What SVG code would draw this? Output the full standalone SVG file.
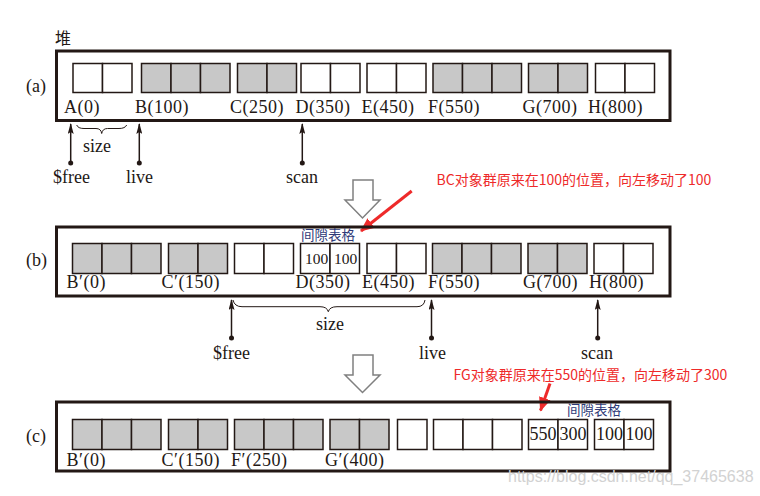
<svg xmlns="http://www.w3.org/2000/svg" width="760" height="496" viewBox="0 0 760 496">
<style>
.box{fill:none;stroke:#231815;stroke-width:3}
.c{stroke:#231815;stroke-width:1.5}
.g{fill:#c8c8c8}
.w{fill:#fff}
.t{font-family:"Liberation Serif","Times New Roman",serif;font-size:18px;fill:#231815}
.l{letter-spacing:0.5px}
.n{font-family:"Liberation Serif","Times New Roman",serif;fill:#231815;text-anchor:middle}
.gap{font-family:"Noto Sans CJK SC",sans-serif;font-size:13.5px;fill:#2e3a78}
.red{font-family:"Noto Sans CJK SC",sans-serif;font-size:14px;fill:#ee2a2a}
.ptr{stroke:#231815;stroke-width:1.5;fill:none}
.dot{fill:#231815}
.brace{stroke:#231815;stroke-width:1;fill:none}
.hollow{fill:#fff;stroke:#808080;stroke-width:1.5}
.rl{stroke:#ee2a2a;stroke-width:3;fill:none}
</style>
<defs>
<marker id="ah" markerUnits="userSpaceOnUse" markerWidth="11" markerHeight="6" refX="10" refY="3" orient="auto" viewBox="0 0 11 6">
<path d="M11,3 L0,0 L2,3 L0,6 Z" fill="#231815"/>
</marker>
<marker id="rh" markerUnits="userSpaceOnUse" markerWidth="14" markerHeight="14" refX="13" refY="6" orient="auto" viewBox="0 0 14 12">
<path d="M0,0 L14,6 L0,12 Z" fill="#ee2a2a"/>
</marker>
</defs>

<text x="55" y="44" style="font-family:'Noto Sans CJK SC',sans-serif;font-size:16px;fill:#231815">堆</text>

<g id="row-a">
<text class="t" x="26" y="92">(a)</text>
<rect class="box" x="56.5" y="51" width="613.5" height="69.5"/>
<g id="a-A"><rect class="c w" x="73" y="63.5" width="29.5" height="29"/><rect class="c w" x="102.5" y="63.5" width="29.5" height="29"/><text class="t l" x="64" y="113">A(0)</text></g>
<g id="a-B"><rect class="c g" x="141.5" y="63.5" width="29.5" height="29"/><rect class="c g" x="171" y="63.5" width="29.5" height="29"/><rect class="c g" x="200.5" y="63.5" width="29.5" height="29"/><text class="t l" x="135" y="113">B(100)</text></g>
<g id="a-C"><rect class="c g" x="237.5" y="63.5" width="29.5" height="29"/><rect class="c g" x="267" y="63.5" width="29.5" height="29"/><text class="t l" x="230" y="113">C(250)</text></g>
<g id="a-D"><rect class="c w" x="301" y="63.5" width="29.5" height="29"/><rect class="c w" x="330.5" y="63.5" width="29.5" height="29"/><text class="t l" x="295.5" y="113">D(350)</text></g>
<g id="a-E"><rect class="c w" x="367" y="63.5" width="29.5" height="29"/><rect class="c w" x="396.5" y="63.5" width="29.5" height="29"/><text class="t l" x="361.5" y="113">E(450)</text></g>
<g id="a-F"><rect class="c g" x="433" y="63.5" width="29.5" height="29"/><rect class="c g" x="462.5" y="63.5" width="29.5" height="29"/><rect class="c g" x="492" y="63.5" width="29.5" height="29"/><text class="t l" x="428" y="113">F(550)</text></g>
<g id="a-G"><rect class="c g" x="528.5" y="63.5" width="29.5" height="29"/><rect class="c g" x="558" y="63.5" width="29.5" height="29"/><text class="t l" x="522.5" y="113">G(700)</text></g>
<g id="a-H"><rect class="c w" x="595.5" y="63.5" width="29.5" height="29"/><rect class="c w" x="625" y="63.5" width="29.5" height="29"/><text class="t l" x="588" y="113">H(800)</text></g>
</g>

<g id="ptr-a">
<g id="a-free"><line class="ptr" x1="70.7" y1="163" x2="70.7" y2="124" marker-end="url(#ah)"/><circle class="dot" cx="70.7" cy="163" r="2.5"/><text class="t" x="53" y="183">$free</text></g>
<g id="a-live"><line class="ptr" x1="139.3" y1="163" x2="139.3" y2="124" marker-end="url(#ah)"/><circle class="dot" cx="139.3" cy="163" r="2.5"/><text class="t" x="126" y="183">live</text></g>
<g id="a-scan"><line class="ptr" x1="302.3" y1="163" x2="302.3" y2="124" marker-end="url(#ah)"/><circle class="dot" cx="302.3" cy="163" r="2.5"/><text class="t" x="286" y="183">scan</text></g>
<g id="a-size"><path class="brace" d="M76.7,125 Q78,128.5 84,128.5 L96,128.5 Q101,128.5 101.7,133.5 Q102.5,128.5 107.5,128.5 L119,128.5 Q125,128.5 126.7,125"/><text class="t" x="83" y="152">size</text></g>
</g>

<g id="step-1"><polygon class="hollow" points="353,180 373,180 373,200 380,200 362.5,218 345,200 353,200"/></g>

<g id="note-1">
<text class="red" x="436.5" y="185">BC对象群原来在100的位置，向左移动了100</text>
<line class="rl" x1="411.7" y1="191" x2="361" y2="231" marker-end="url(#rh)"/>
</g>

<g id="row-b">
<text class="t" x="26" y="266">(b)</text>
<rect class="box" x="56.5" y="227" width="613.5" height="69"/>
<g id="b-B"><rect class="c g" x="72.5" y="243.5" width="29.5" height="30"/><rect class="c g" x="102" y="243.5" width="29.5" height="30"/><rect class="c g" x="131.5" y="243.5" width="29.5" height="30"/><text class="t l" x="66.5" y="288">B′(0)</text></g>
<g id="b-C"><rect class="c g" x="168.5" y="243.5" width="29.5" height="30"/><rect class="c g" x="198" y="243.5" width="29.5" height="30"/><text class="t l" x="161.5" y="288">C′(150)</text></g>
<g id="b-free"><rect class="c w" x="234.5" y="243.5" width="29.5" height="30"/><rect class="c w" x="264" y="243.5" width="29.5" height="30"/></g>
<g id="b-D"><rect class="c w" x="300.5" y="243.5" width="29.5" height="30"/><rect class="c w" x="330" y="243.5" width="29.5" height="30"/><text class="n" x="316.5" y="263.5" font-size="15.5">100</text><text class="n" x="345.5" y="263.5" font-size="15.5">100</text><text class="gap" x="301" y="240">间隙表格</text><text class="t l" x="295.5" y="288">D(350)</text></g>
<g id="b-E"><rect class="c w" x="367" y="243.5" width="29.5" height="30"/><rect class="c w" x="396.5" y="243.5" width="29.5" height="30"/><text class="t l" x="362" y="288">E(450)</text></g>
<g id="b-F"><rect class="c g" x="432.5" y="243.5" width="29.5" height="30"/><rect class="c g" x="462" y="243.5" width="29.5" height="30"/><rect class="c g" x="491.5" y="243.5" width="29.5" height="30"/><text class="t l" x="428" y="288">F(550)</text></g>
<g id="b-G"><rect class="c g" x="528" y="243.5" width="29.5" height="30"/><rect class="c g" x="557.5" y="243.5" width="29.5" height="30"/><text class="t l" x="523" y="288">G(700)</text></g>
<g id="b-H"><rect class="c w" x="594" y="243.5" width="29.5" height="30"/><rect class="c w" x="623.5" y="243.5" width="29.5" height="30"/><text class="t l" x="589" y="288">H(800)</text></g>
</g>

<g id="ptr-b">
<g id="b-pfree"><line class="ptr" x1="231.5" y1="338" x2="231.5" y2="300" marker-end="url(#ah)"/><circle class="dot" cx="231.5" cy="338" r="2.5"/><text class="t" x="213" y="358.5">$free</text></g>
<g id="b-live"><line class="ptr" x1="431.5" y1="338" x2="431.5" y2="300" marker-end="url(#ah)"/><circle class="dot" cx="431.5" cy="338" r="2.5"/><text class="t" x="419" y="359">live</text></g>
<g id="b-scan"><line class="ptr" x1="597.7" y1="338" x2="597.7" y2="300" marker-end="url(#ah)"/><circle class="dot" cx="597.7" cy="338" r="2.5"/><text class="t" x="581" y="359">scan</text></g>
<g id="b-size"><path class="brace" d="M233,300 Q234.5,306.7 242,306.7 L320,306.7 Q327,306.7 328.3,311.7 Q329.6,306.7 337,306.7 L417,306.7 Q424,306.7 425,300"/><text class="t" x="316" y="330">size</text></g>
</g>

<g id="step-2"><polygon class="hollow" points="353,355 373,355 373,375 380,375 362.5,392.5 345,375 353,375"/></g>

<g id="note-2">
<text class="red" x="453.5" y="380">FG对象群原来在550的位置，向左移动了300</text>
<line class="rl" x1="550" y1="383.5" x2="540.5" y2="410.5" marker-end="url(#rh)"/>
</g>

<g id="row-c">
<text class="t" x="26" y="442">(c)</text>
<rect class="box" x="56.5" y="402" width="613.5" height="69"/>
<g id="c-B"><rect class="c g" x="72.5" y="419.5" width="29.5" height="30"/><rect class="c g" x="102" y="419.5" width="29.5" height="30"/><rect class="c g" x="131.5" y="419.5" width="29.5" height="30"/><text class="t l" x="66.5" y="466">B′(0)</text></g>
<g id="c-C"><rect class="c g" x="168.5" y="419.5" width="29.5" height="30"/><rect class="c g" x="198" y="419.5" width="29.5" height="30"/><text class="t l" x="161.5" y="466">C′(150)</text></g>
<g id="c-F"><rect class="c g" x="234.5" y="419.5" width="29.5" height="30"/><rect class="c g" x="264" y="419.5" width="29.5" height="30"/><rect class="c g" x="293.5" y="419.5" width="29.5" height="30"/><text class="t l" x="231" y="466">F′(250)</text></g>
<g id="c-G"><rect class="c g" x="330" y="419.5" width="29.5" height="30"/><rect class="c g" x="359.5" y="419.5" width="29.5" height="30"/><text class="t l" x="325" y="466">G′(400)</text></g>
<g id="c-free1"><rect class="c w" x="397.5" y="419.5" width="29.5" height="30"/></g>
<g id="c-free2"><rect class="c w" x="433.5" y="419.5" width="29.5" height="30"/><rect class="c w" x="463" y="419.5" width="29.5" height="30"/><rect class="c w" x="492.5" y="419.5" width="29.5" height="30"/></g>
<g id="c-gap1"><rect class="c w" x="528.5" y="419.5" width="29.5" height="30"/><rect class="c w" x="558" y="419.5" width="29.5" height="30"/><text class="n" x="543" y="440" font-size="18">550</text><text class="n" x="573" y="440" font-size="18">300</text></g>
<g id="c-gap2"><rect class="c w" x="594.5" y="419.5" width="29.5" height="30"/><rect class="c w" x="624" y="419.5" width="29.5" height="30"/><text class="n" x="609.5" y="440" font-size="18">100</text><text class="n" x="639" y="440" font-size="18">100</text><text class="gap" x="567" y="415">间隙表格</text></g>
</g>

<text x="508" y="482" style="font-family:'Liberation Sans',Arial,sans-serif;font-size:16px;fill:#d2d2d2">https://blog.csdn.net/qq_37465638</text>
</svg>
